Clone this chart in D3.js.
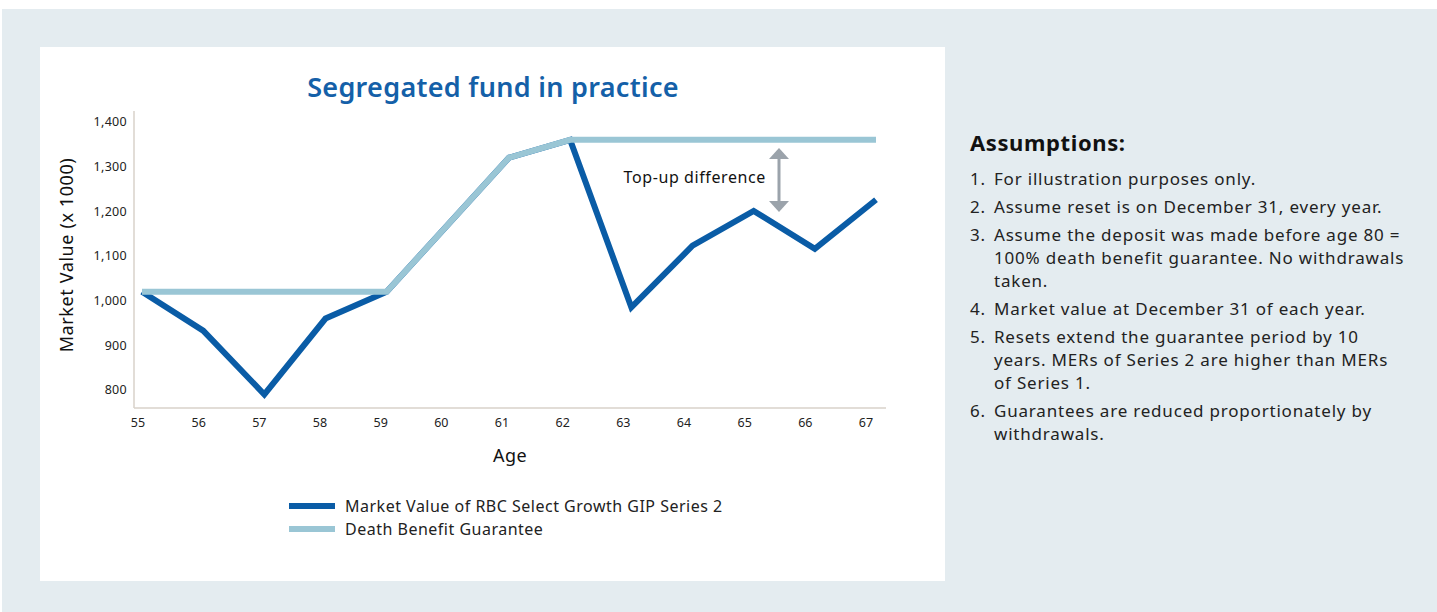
<!DOCTYPE html>
<html><head><meta charset="utf-8">
<script src="https://cdn.jsdelivr.net/npm/d3@7"></script>
<style>
html,body{margin:0;padding:0;background:#fff;}
svg{display:block;font-family:"Noto Sans",sans-serif;}
</style></head>
<body>
<svg id="c" width="1437" height="612"></svg>
<script>
const ages = [55,56,57,58,59,60,61,62,63,64,65,66,67];
const marketValue = [1020,933,790,960,1020,1170,1320,1360,985,1123,1201,1116,1226];
const guarantee = [1020,1020,1020,1020,1020,1170,1320,1360,1360,1360,1360,1360,1360];
const yTicks = [800,900,1000,1100,1200,1300,1400];
const seriesNames = ["Market Value of RBC Select Growth GIP Series 2","Death Benefit Guarantee"];
const seriesColors = ["#0a5ca6","#9ac6d5"];
const title = "Segregated fund in practice";
const yTitle = "Market Value (x 1000)";
const xTitle = "Age";
const annotation = "Top-up difference";
const assumptionsTitle = "Assumptions:";
const assumptions = [
  ["For illustration purposes only."],
  ["Assume reset is on December 31, every year."],
  ["Assume the deposit was made before age 80 =","100% death benefit guarantee. No withdrawals","taken."],
  ["Market value at December 31 of each year."],
  ["Resets extend the guarantee period by 10","years. MERs of Series 2 are higher than MERs","of Series 1."],
  ["Guarantees are reduced proportionately by","withdrawals."]
];

const svg = d3.select("#c");
svg.append("rect").attr("x",2).attr("y",9).attr("width",1435).attr("height",603).attr("fill","#e4ecf0");
svg.append("rect").attr("x",40).attr("y",47).attr("width",905).attr("height",534).attr("fill","#ffffff");

const x = d3.scaleLinear().domain([55,67]).range([142,876]);
const y = d3.scaleLinear().domain([800,1400]).range([390,122]);
const axisLeftX = 134, axisBottomY = 408;

svg.append("line").attr("x1",axisLeftX).attr("x2",axisLeftX).attr("y1",111).attr("y2",axisBottomY).attr("stroke","#d8d2ca").attr("stroke-width",1.5);
svg.append("line").attr("x1",axisLeftX).attr("x2",886).attr("y1",axisBottomY).attr("y2",axisBottomY).attr("stroke","#d8d2ca").attr("stroke-width",1.5);

svg.append("g").selectAll("text").data(yTicks).join("text")
  .attr("x",127).attr("y",d=>y(d)).attr("dy","0.35em").attr("text-anchor","end")
  .attr("font-size",12.5).attr("letter-spacing",0.3).attr("fill","#222")
  .text(d=>d3.format(",")(d));
svg.append("g").selectAll("text").data(ages).join("text")
  .attr("x",d=>x(d)-4-(d-55)*0.5).attr("y",423).attr("dy","0.35em").attr("text-anchor","middle")
  .attr("font-size",12.5).attr("fill","#222")
  .text(d=>d);

svg.append("text").attr("transform",`translate(73,255) rotate(-90)`).attr("text-anchor","middle")
  .attr("font-size",18).attr("letter-spacing",0.6).attr("fill","#111").text(yTitle);
svg.append("text").attr("x",510).attr("y",462).attr("text-anchor","middle")
  .attr("font-size",18).attr("letter-spacing",0.5).attr("fill","#111").text(xTitle);

svg.append("text").attr("x",493).attr("y",97).attr("text-anchor","middle")
  .attr("font-size",27).attr("font-weight",600).attr("letter-spacing",0.3).attr("fill","#1460a8").text(title);

const line = d3.line().x((d,i)=>x(ages[i])).y(d=>y(d));
svg.append("path").datum(marketValue).attr("d",line).attr("fill","none")
  .attr("stroke",seriesColors[0]).attr("stroke-width",6).attr("stroke-linejoin","miter");
svg.append("path").datum(guarantee).attr("d",line).attr("fill","none")
  .attr("stroke",seriesColors[1]).attr("stroke-width",6).attr("stroke-linejoin","miter");

const ax = 779, aTop = 148, aBot = 212;
const ag = svg.append("g").attr("fill","#9ba3ab");
ag.append("rect").attr("x",ax-1.5).attr("y",aTop+9).attr("width",3).attr("height",aBot-aTop-18);
ag.append("path").attr("d",`M${ax},${aTop} L${ax+10},${aTop+11} L${ax-10},${aTop+11} Z`);
ag.append("path").attr("d",`M${ax},${aBot} L${ax+10},${aBot-11} L${ax-10},${aBot-11} Z`);
svg.append("text").attr("x",766).attr("y",177).attr("dy","0.35em").attr("text-anchor","end")
  .attr("font-size",16).attr("letter-spacing",0.6).attr("fill","#111").text(annotation);

const lg = svg.append("g");
seriesNames.forEach((n,i)=>{
  const yy = 506 + i*23;
  lg.append("line").attr("x1",289).attr("x2",335).attr("y1",yy).attr("y2",yy)
    .attr("stroke",seriesColors[i]).attr("stroke-width",6);
  lg.append("text").attr("x",345).attr("y",yy).attr("dy","0.35em")
    .attr("font-size",16).attr("letter-spacing",0.5).attr("fill","#222").text(n);
});

svg.append("text").attr("x",970).attr("y",151).attr("font-size",22).attr("font-weight",700)
  .attr("letter-spacing",0.6).attr("fill","#111").text(assumptionsTitle);
let yy = 179;
assumptions.forEach((item,i)=>{
  svg.append("text").attr("x",970).attr("y",yy).attr("dy","0.35em").attr("font-size",17)
    .attr("letter-spacing",0.8).attr("fill","#222").text((i+1)+".");
  item.forEach((ln,j)=>{
    svg.append("text").attr("x",994).attr("y",yy).attr("dy","0.35em").attr("font-size",17)
      .attr("letter-spacing",0.8).attr("fill","#222").text(ln);
    yy += (j<item.length-1)?23:0;
  });
  yy += 28;
});
</script>
</body></html>
